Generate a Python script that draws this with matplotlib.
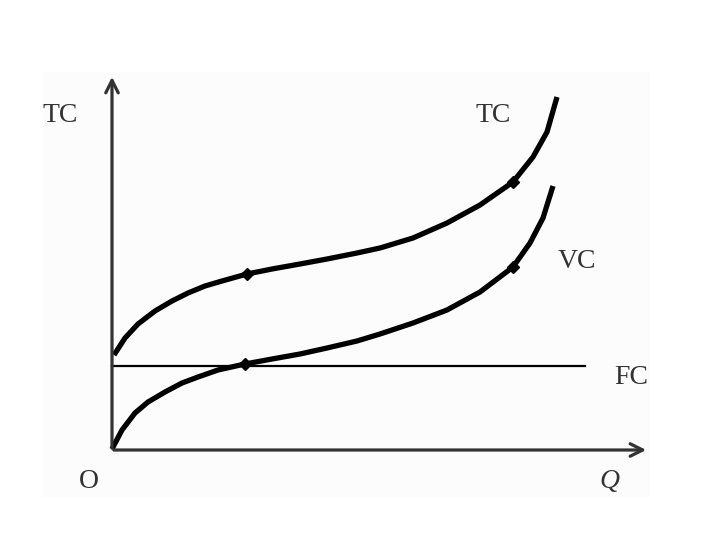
import numpy as np
import matplotlib.pyplot as plt
from matplotlib.patches import Rectangle

# data (origin at O, units ~ pixels)
q_tc = [2, 13, 26, 43, 60, 76, 93, 110, 135, 160, 188, 215, 245, 268, 301, 335, 368, 401, 421, 435, 445]
tc = [95, 112, 126, 139, 149, 157, 164, 169, 176, 181, 186, 191, 197, 202, 212, 227, 245, 268, 293, 318, 353]
q_vc = [0, 10, 23, 36, 53, 70, 86, 106, 133, 160, 188, 215, 245, 268, 301, 335, 368, 401, 418, 431, 441]
vc = [1, 20, 37, 48, 58, 67, 73, 80, 86, 91, 96, 102, 109, 116, 127, 140, 158, 183, 207, 232, 264]
fc = 84
fc_end = 473
tc_dots_q = [135, 401]
tc_dots = [176, 268]
vc_dots_q = [133, 401]
vc_dots = [86, 183]

fig = plt.figure(figsize=(7.2, 5.4), dpi=100)
ax = fig.add_axes([0, 0, 1, 1])
ax.set_xlim(-112, 608)
ax.set_ylim(-90, 450)
ax.axis('off')

# faint background panel
ax.add_patch(Rectangle((-70, -47), 608, 425, facecolor='#fcfcfc', edgecolor='none', zorder=0))

# axes with arrows
ax.annotate('', xy=(0, 376), xytext=(0, -1),
            arrowprops=dict(arrowstyle='->,head_length=0.9,head_width=0.45', lw=2.3, color='#333333'))
ax.annotate('', xy=(537, 0), xytext=(-1, 0),
            arrowprops=dict(arrowstyle='->,head_length=0.9,head_width=0.45', lw=2.3, color='#333333'))

# curves
ax.plot([0, fc_end], [fc, fc], color='black', lw=1.6)
ax.plot(q_tc, tc, color='black', lw=3.8, solid_capstyle='butt', solid_joinstyle='round')
ax.plot(q_vc, vc, color='black', lw=3.8, solid_capstyle='butt', solid_joinstyle='round')
ax.plot(tc_dots_q, tc_dots, 'D', color='black', ms=6)
ax.plot(vc_dots_q, vc_dots, 'D', color='black', ms=6)

tkw = dict(family='Liberation Serif', fontsize=20, color='#333333', ha='center', va='center')
ax.text(-52, 335, 'TC', **tkw)
ax.text(381, 335, 'TC', **tkw)
ax.text(465, 188, 'VC', **tkw)
ax.text(519, 73, 'FC', **tkw)
ax.text(-23, -32, 'O', **tkw)
ax.text(497, -32, 'Q', style='italic', **tkw)

fig.savefig('out.png', dpi=100)
